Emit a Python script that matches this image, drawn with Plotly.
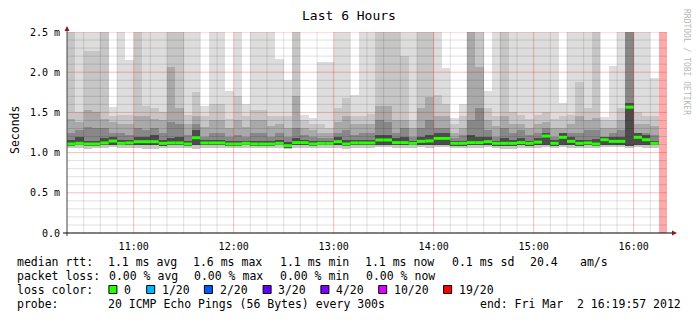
import pandas as pd
import plotly.graph_objects as go

# ---------------- data (ms) ----------------
start_time = "2012-03-02 10:20"
n_steps = 71
step_min = 5

median = [1.107, 1.115, 1.107, 1.107, 1.12, 1.144, 1.115, 1.12, 1.136, 1.136,
          1.136, 1.115, 1.12, 1.12, 1.107, 1.185, 1.12, 1.12, 1.12, 1.107,
          1.107, 1.115, 1.107, 1.107, 1.107, 1.115, 1.086, 1.124, 1.124, 1.107,
          1.115, 1.115, 1.136, 1.107, 1.12, 1.12, 1.12, 1.157, 1.157, 1.124,
          1.124, 1.115, 1.14, 1.145, 1.177, 1.177, 1.115, 1.115, 1.124, 1.124,
          1.136, 1.115, 1.115, 1.115, 1.124, 1.115, 1.13, 1.206, 1.115, 1.19,
          1.14, 1.115, 1.12, 1.107, 1.16, 1.14, 1.14, 1.565, 1.19, 1.16, 1.115]

smoke_max = [2.5, 2.5, 2.5, 2.5, 2.5, 1.57, 2.5, 2.15, 2.5, 2.5,
             2.5, 2.5, 2.5, 2.5, 2.5, 2.5, 1.58, 2.5, 2.5, 1.77,
             2.5, 1.6, 2.5, 2.5, 2.5, 2.16, 1.9, 2.5, 1.47, 1.43,
             2.13, 2.13, 2.5, 2.5, 1.72, 2.5, 2.5, 2.5, 2.5, 2.5,
             2.5, 2.5, 2.5, 2.5, 2.5, 2.05, 1.43, 1.6, 2.5, 2.5,
             1.77, 2.5, 2.5, 2.5, 2.5, 2.5, 2.5, 2.5, 2.5, 1.62,
             2.5, 2.5, 2.5, 2.5, 1.44, 2.08, 2.5, 2.5, 2.5, 2.5, 1.93]

smoke_q2 = [2.5, 1.5, 2.26, 2.26, 2.5, 1.45, 1.47, 1.47, 2.5, 1.58,
            1.55, 1.5, 2.5, 2.5, 1.47, 1.75, 1.45, 1.61, 1.61, 1.42,
            1.7, 1.45, 1.53, 1.53, 1.45, 1.45, 1.45, 2.5, 1.4, 1.35,
            1.35, 1.3, 1.55, 1.68, 1.45, 1.45, 1.48, 2.5, 2.5, 2.5,
            2.2, 1.4, 2.5, 2.5, 1.72, 1.6, 1.35, 1.45, 2.5, 2.5,
            1.55, 1.45, 2.5, 1.5, 1.47, 1.42, 1.47, 1.5, 1.42, 1.45,
            1.47, 1.88, 1.55, 2.5, 1.4, 1.4, 1.55, 2.5, 1.5, 1.45, 1.45]

smoke_q3 = [1.42, 1.38, 1.53, 1.5, 1.42, 1.38, 1.35, 1.35, 1.45, 1.45,
            1.42, 1.4, 2.06, 1.55, 1.35, 1.45, 1.32, 1.4, 1.4, 1.3,
            1.4, 1.32, 1.4, 1.4, 1.33, 1.35, 1.3, 1.7, 1.3, 1.28,
            1.25, 1.24, 1.38, 1.45, 1.35, 1.35, 1.35, 1.58, 1.58, 1.4,
            1.4, 1.3, 1.55, 1.69, 1.45, 1.45, 1.25, 1.3, 2.5, 2.06,
            1.4, 1.33, 1.45, 1.35, 1.35, 1.3, 1.35, 1.38, 1.3, 1.3,
            1.35, 1.45, 1.4, 1.43, 1.3, 1.3, 1.4, 2.5, 1.35, 1.35, 1.33]

smoke_q4 = [1.25, 1.28, 1.32, 1.3, 1.3, 1.25, 1.25, 1.22, 1.3, 1.28,
            1.3, 1.25, 1.38, 1.35, 1.22, 1.35, 1.2, 1.25, 1.25, 1.2,
            1.22, 1.2, 1.25, 1.25, 1.2, 1.25, 1.2, 1.3, 1.22, 1.2,
            1.18, 1.18, 1.25, 1.28, 1.22, 1.25, 1.25, 1.4, 1.38, 1.25,
            1.3, 1.2, 1.3, 1.4, 1.3, 1.3, 1.18, 1.22, 1.4, 1.55,
            1.28, 1.2, 1.3, 1.25, 1.28, 1.22, 1.25, 1.3, 1.2, 1.25,
            1.25, 1.25, 1.28, 1.28, 1.2, 1.25, 1.28, 2.5, 1.25, 1.25, 1.22]

core_top = [1.16, 1.2, 1.15, 1.15, 1.18, 1.19, 1.16, 1.16, 1.2, 1.2,
            1.22, 1.16, 1.18, 1.2, 1.15, 1.28, 1.16, 1.16, 1.16, 1.14,
            1.14, 1.15, 1.15, 1.15, 1.14, 1.16, 1.13, 1.18, 1.16, 1.14,
            1.15, 1.15, 1.2, 1.16, 1.16, 1.16, 1.16, 1.22, 1.22, 1.18,
            1.2, 1.15, 1.2, 1.22, 1.24, 1.24, 1.14, 1.15, 1.22, 1.2,
            1.2, 1.15, 1.18, 1.16, 1.18, 1.15, 1.18, 1.24, 1.16, 1.24,
            1.2, 1.16, 1.16, 1.17, 1.2, 1.2, 1.2, 1.62, 1.25, 1.22, 1.15]

inner_min = [1.08, 1.09, 1.08, 1.08, 1.09, 1.1, 1.09, 1.09, 1.1, 1.1,
             1.09, 1.08, 1.09, 1.09, 1.08, 1.1, 1.09, 1.09, 1.09, 1.08,
             1.08, 1.09, 1.08, 1.08, 1.08, 1.09, 1.06, 1.09, 1.09, 1.08,
             1.09, 1.09, 1.09, 1.08, 1.09, 1.09, 1.09, 1.1, 1.1, 1.09,
             1.09, 1.09, 1.1, 1.1, 1.1, 1.1, 1.08, 1.08, 1.09, 1.09,
             1.1, 1.08, 1.08, 1.08, 1.09, 1.08, 1.09, 1.1, 1.08, 1.1,
             1.1, 1.08, 1.09, 1.08, 1.1, 1.1, 1.1, 1.08, 1.1, 1.1, 1.09]

outer_min = [1.06, 1.06, 1.05, 1.06, 1.06, 1.07, 1.06, 1.06, 1.06, 1.05,
             1.05, 1.06, 1.06, 1.06, 1.06, 1.05, 1.06, 1.06, 1.06, 1.06,
             1.06, 1.06, 1.06, 1.06, 1.06, 1.06, 1.04, 1.06, 1.06, 1.06,
             1.06, 1.06, 1.06, 1.05, 1.06, 1.06, 1.06, 1.07, 1.07, 1.06,
             1.06, 1.06, 1.07, 1.06, 1.07, 1.07, 1.06, 1.06, 1.06, 1.06,
             1.07, 1.06, 1.05, 1.05, 1.06, 1.06, 1.06, 1.07, 1.06, 1.07,
             1.06, 1.06, 1.06, 1.06, 1.07, 1.07, 1.07, 1.06, 1.07, 1.06, 1.06]

unknown_steps = ["2012-03-02 16:15"]

y_tick_vals = [0.0, 0.5, 1.0, 1.5, 2.0, 2.5]
y_tick_text = ["0.0", "0.5 m", "1.0 m", "1.5 m", "2.0 m", "2.5 m"]
x_tick_vals = ["2012-03-02 11:00", "2012-03-02 12:00", "2012-03-02 13:00",
               "2012-03-02 14:00", "2012-03-02 15:00", "2012-03-02 16:00"]
x_tick_text = ["11:00", "12:00", "13:00", "14:00", "15:00", "16:00"]

loss_labels = ["0", "1/20", "2/20", "3/20", "4/20", "10/20", "19/20"]
loss_colors = ["#26ff00", "#00b8ff", "#0059ff", "#5e00ff", "#7e00ff", "#dd00ff", "#ff0000"]

title = "Last 6 Hours"
y_title = "Seconds"
credit = "RRDTOOL / TOBI OETIKER"

# ---------------- geometry ----------------
W, H = 697, 321
L, R, T, B = 67, 30, 32, 88
PW, PH = W - L - R, H - T - B
MONO = "DejaVu Sans Mono"


def px(x):
    return (x - L) / PW


def py(y):
    return (T + PH - y) / PH


step = pd.Timedelta(minutes=step_min)
times = pd.date_range(start_time, periods=n_steps, freq=f"{step_min}min")
centers = times + step / 2
x0 = times[0]
x1 = times[0] + pd.Timedelta(hours=6)
ymax = y_tick_vals[-1]

fig = go.Figure()


def layer(bottom, top, color):
    fig.add_trace(go.Bar(
        x=centers, base=bottom, y=[t - b for t, b in zip(top, bottom)],
        width=step.total_seconds() * 1000,
        marker=dict(color=color, line=dict(width=0)),
        hoverinfo="skip", showlegend=False))


layer(outer_min, smoke_max, "#dddddd")
layer(outer_min, smoke_q2, "#c6c6c6")
layer(inner_min, smoke_q3, "#a9a9a9")
layer(inner_min, smoke_q4, "#888888")
layer(inner_min, core_top, "#4c4c4c")

# ---------------- grid (drawn above smoke, like rrdtool) ----------------
minor_x, minor_y, major_x, major_y = [], [], [], []
t = x0 + pd.Timedelta(minutes=10)
while t < x1:
    if t.minute == 0:
        major_x += [t, t, None]
        major_y += [0, ymax, None]
    else:
        minor_x += [t, t, None]
        minor_y += [0, ymax, None]
    t += pd.Timedelta(minutes=10)
for k in range(1, 26):
    v = k / 10
    if k % 5 == 0:
        major_x += [x0, x1, None]
        major_y += [v, v, None]
    else:
        minor_x += [x0, x1, None]
        minor_y += [v, v, None]

fig.add_trace(go.Scatter(x=minor_x, y=minor_y, mode="lines",
                         line=dict(color="rgba(0,0,0,0.12)", width=1),
                         hoverinfo="skip", showlegend=False))
fig.add_trace(go.Scatter(x=major_x, y=major_y, mode="lines",
                         line=dict(color="rgba(255,0,0,0.27)", width=1),
                         hoverinfo="skip", showlegend=False))

# ---------------- median ----------------
mx, my = [], []
for tt, m in zip(times, median):
    mx += [tt, tt + step, None]
    my += [m, m, None]
fig.add_trace(go.Scatter(x=mx, y=my, mode="lines",
                         line=dict(color=loss_colors[0], width=3),
                         hoverinfo="skip", showlegend=False))

# ---------------- unknown (pink) ----------------
uk = pd.to_datetime(unknown_steps) + step / 2
fig.add_trace(go.Bar(x=uk, base=[0] * len(uk), y=[ymax] * len(uk),
                     width=step.total_seconds() * 1000,
                     marker=dict(color="#ffaaaa", line=dict(width=0)),
                     hoverinfo="skip", showlegend=False))

# ---------------- axes decorations ----------------
shapes = [
    dict(type="line", xref="paper", yref="paper", x0=px(67), x1=px(67),
         y0=py(236), y1=py(30), line=dict(color="#444444", width=1)),
    dict(type="line", xref="paper", yref="paper", x0=px(63), x1=px(673),
         y0=py(233), y1=py(233), line=dict(color="#000000", width=1)),
    dict(type="path", xref="paper", yref="paper",
         path=f"M {px(64.5)} {py(31)} L {px(69.5)} {py(31)} L {px(67)} {py(26)} Z",
         fillcolor="#8b1a1a", line=dict(width=0)),
    dict(type="path", xref="paper", yref="paper",
         path=f"M {px(672)} {py(230.5)} L {px(672)} {py(235.5)} L {px(677)} {py(233)} Z",
         fillcolor="#8b1a1a", line=dict(width=0)),
]

annotations = []


def text(x, y, s, size=11.5, anchor="left", color="#000000", angle=0):
    annotations.append(dict(x=px(x), y=py(y), xref="paper", yref="paper",
                            text=s, showarrow=False, xanchor=anchor,
                            yanchor="middle", borderpad=0, textangle=angle,
                            font=dict(family=MONO, size=size, color=color)))


text(348.5, 16, title, size=13, anchor="center")
text(15, 130, y_title, size=11.5, anchor="center", angle=-90)
text(687, 62, credit, size=8, anchor="center", color="#b8b8b8", angle=90)

# legend lines
y1, y2, y3, y4 = 261.5, 275.5, 289.5, 303.5
text(16, y1, "median rtt:")
for xx, s in [(106.5, "1.1 ms avg"), (192.3, "1.6 ms max"), (278.6, "1.1 ms min"),
              (364.3, "1.1 ms now"), (451, "0.1 ms sd"), (528.8, "20.4"), (578.6, "am/s")]:
    text(xx, y1, s)
text(16, y2, "packet loss:")
for xx, s in [(107.8, "0.00 % avg"), (193.2, "0.00 % max"), (278.9, "0.00 % min"),
              (365.2, "0.00 % now")]:
    text(xx, y2, s)
text(16, y3, "loss color:")
box_x = [108.9, 146.7, 204.4, 263.1, 320.9, 378.7, 443.6]
for bx, lab, col in zip(box_x, loss_labels, loss_colors):
    shapes.append(dict(type="rect", xref="paper", yref="paper",
                       x0=px(bx), x1=px(bx + 8), y0=py(285.5), y1=py(293.5),
                       fillcolor=col, line=dict(color="#000000", width=1)))
    text(bx + 14.3, y3, lab)
text(16, y4, "probe:")
text(106.5, y4, "20 ICMP Echo Pings (56 Bytes) every 300s")
text(478.6, y4, "end: Fri Mar  2 16:19:57 2012")

fig.update_layout(
    width=W, height=H, margin=dict(l=L, r=R, t=T, b=B, pad=0),
    paper_bgcolor="#ffffff", plot_bgcolor="#ffffff",
    barmode="overlay", bargap=0, showlegend=False, hovermode=False,
    shapes=shapes, annotations=annotations,
    xaxis=dict(type="date", range=[x0, x1], autorange=False,
               showgrid=False, zeroline=False, showline=False,
               tickvals=pd.to_datetime(x_tick_vals), ticktext=x_tick_text,
               ticks="", ticklabelstandoff=6,
               tickfont=dict(family=MONO, size=10, color="#000000")),
    yaxis=dict(range=[0, ymax], autorange=False,
               showgrid=False, zeroline=False, showline=False,
               tickvals=y_tick_vals, ticktext=y_tick_text,
               ticks="", ticklabelstandoff=6,
               tickfont=dict(family=MONO, size=10, color="#000000")),
)

fig.write_html("out.html")
